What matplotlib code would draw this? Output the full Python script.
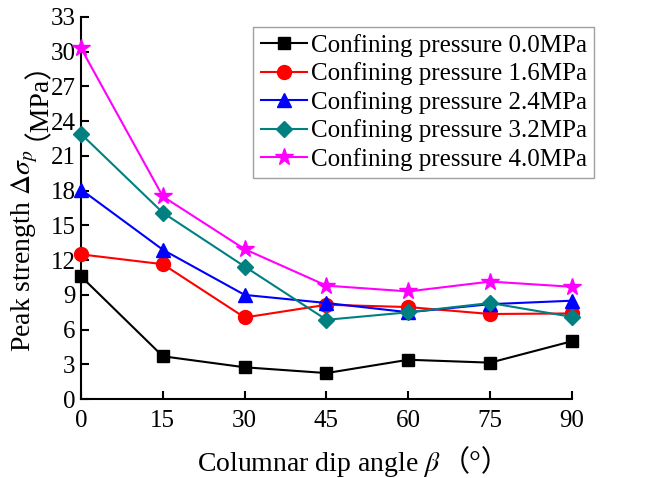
import matplotlib
matplotlib.use("Agg")
import matplotlib.pyplot as plt

plt.rcParams["font.family"] = ["Liberation Serif", "Noto Sans CJK SC"]
plt.rcParams["mathtext.fontset"] = "stix"

angles = [0, 15, 30, 45, 60, 75, 90]
p00 = [10.6, 3.7, 2.75, 2.25, 3.4, 3.15, 5.0]
p16 = [12.5, 11.65, 7.05, 8.15, 7.95, 7.35, 7.4]
p24 = [18.1, 12.9, 9.0, 8.3, 7.5, 8.2, 8.5]
p32 = [22.9, 16.1, 11.45, 6.85, 7.5, 8.3, 7.1]
p40 = [30.3, 17.5, 12.95, 9.8, 9.3, 10.15, 9.7]

series = [
    ("Confining pressure 0.0MPa", p00, "black", "s", 9),
    ("Confining pressure 1.6MPa", p16, "#ff0000", "o", 10),
    ("Confining pressure 2.4MPa", p24, "#0000ff", "^", 10),
    ("Confining pressure 3.2MPa", p32, "#008080", "D", 8),
    ("Confining pressure 4.0MPa", p40, "#ff00ff", "*", 13),
]

fig = plt.figure(figsize=(6.45, 4.78), dpi=100)
ax = fig.add_axes([0.1256, 0.165, 0.7612, 0.7995])

for label, vals, color, marker, ms in series:
    ax.plot(angles, vals, color=color, marker=marker, markersize=ms,
            linewidth=1.5, label=label, clip_on=False, zorder=3)

ax.set_xlim(0, 90)
ax.set_ylim(0, 33)
ax.set_xticks(angles)
ax.set_yticks(range(0, 34, 3))
for side in ("top", "right"):
    ax.spines[side].set_visible(False)
for side in ("left", "bottom"):
    ax.spines[side].set_linewidth(1.5)
ax.tick_params(direction="in", length=6, width=1.5, labelsize=18, pad=4)
ax.tick_params(axis="x", pad=8)

leg = ax.legend(loc="upper left", bbox_to_anchor=(0.351, 0.975), fontsize=18,
                frameon=True, fancybox=False, handlelength=1.85,
                handletextpad=0.15, borderpad=0.3, labelspacing=0.22,
                borderaxespad=0)
leg.get_frame().set_edgecolor("#888888")
leg.get_frame().set_linewidth(1.0)

# axis labels: latin part with mathtext, full-width brackets from the CJK font,
# second piece put on the same baseline right after the first
renderer = fig.canvas.get_renderer()
to_axes = ax.transAxes.inverted()

xl = ax.text(0.236, -0.188, r"Columnar dip angle $\beta$", transform=ax.transAxes,
             fontsize=20, ha="left", va="baseline")
x_end = to_axes.transform((xl.get_window_extent(renderer).x1, 0))[0]
ax.text(x_end, -0.188, "（°）", transform=ax.transAxes,
        fontsize=21, ha="left", va="baseline")

y_x, y_y = -0.104, 0.123
yl = ax.text(y_x, y_y, r"Peak strength $\Delta\sigma_p$", transform=ax.transAxes,
             fontsize=20, ha="left", va="baseline", rotation=90,
             rotation_mode="anchor")
y_end = to_axes.transform((0, yl.get_window_extent(renderer).y1 + 10))[1]
ax.text(y_x, y_end, "（MPa）", transform=ax.transAxes,
        fontsize=20, ha="left", va="baseline", rotation=90,
        rotation_mode="anchor")

fig.savefig("out.png", dpi=100)
